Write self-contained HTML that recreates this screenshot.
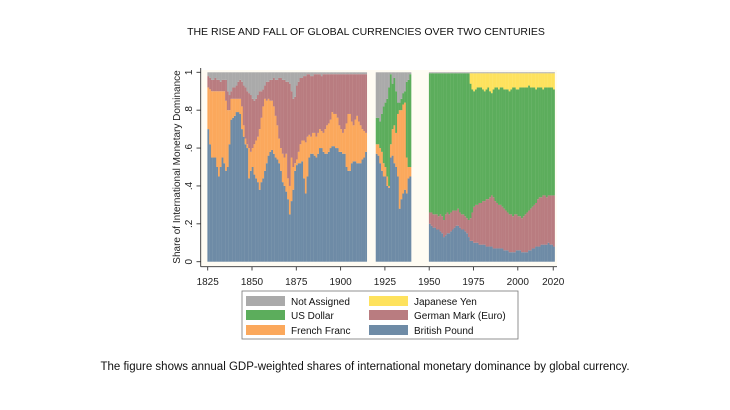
<!DOCTYPE html>
<html><head><meta charset="utf-8"><style>
html,body{margin:0;padding:0;background:#fff;}
svg{display:block;font-family:"Liberation Sans",sans-serif;}
</style></head><body>
<svg id="chart" width="730" height="410" viewBox="0 0 730 410">
<text x="366" y="35" text-anchor="middle" font-size="10.5" fill="#111">THE RISE AND FALL OF GLOBAL CURRENCIES OVER TWO CENTURIES</text>
<rect x="201" y="70" width="356" height="196" fill="#fffcf3"/>
<g id="bars"></g>
<g id="axes"></g>
<text transform="translate(180,167) rotate(-90)" text-anchor="middle" font-size="10" fill="#222">Share of International Monetary Dominance</text>
<g>
<rect x="242" y="291" width="276" height="48" fill="#fff" stroke="#777" stroke-width="0.8"/>
<rect x="246" y="296" width="39" height="10" fill="#aaaaaa"/>
<text x="291" y="305" font-size="10" fill="#111">Not Assigned</text>
<rect x="246" y="310" width="39" height="10" fill="#5cad5c"/>
<text x="291" y="319" font-size="10" fill="#111">US Dollar</text>
<rect x="246" y="325" width="39" height="10" fill="#fba85c"/>
<text x="291" y="334" font-size="10" fill="#111">French Franc</text>
<rect x="369" y="296" width="39" height="10" fill="#fee25d"/>
<text x="414" y="305" font-size="10" fill="#111">Japanese Yen</text>
<rect x="369" y="310" width="39" height="10" fill="#b97c80"/>
<text x="414" y="319" font-size="10" fill="#111">German Mark (Euro)</text>
<rect x="369" y="325" width="39" height="10" fill="#6e8ba6"/>
<text x="414" y="334" font-size="10" fill="#111">British Pound</text>
</g>
<text x="365" y="370" text-anchor="middle" font-size="11.5" fill="#111">The figure shows annual GDP-weighted shares of international monetary dominance by global currency.</text>
</svg>
<script>
// Panel 1: 1825-1914 (cumulative boundaries)
const start1 = 1825;
const pound1 = [.70,.62,.55,.55,.55,.50,.45,.50,.55,.52,.48,.50,.62,.75,.76,.77,.79,.79,.78,.70,.66,.62,.60,.44,.48,.50,.46,.44,.42,.38,.42,.44,.48,.52,.56,.58,.59,.57,.55,.54,.52,.48,.42,.40,.37,.33,.25,.32,.38,.48,.51,.52,.52,.53,.44,.36,.45,.55,.57,.57,.56,.55,.57,.60,.60,.58,.57,.57,.58,.60,.61,.61,.60,.60,.58,.58,.57,.57,.50,.48,.48,.52,.53,.53,.52,.52,.52,.54,.55,.58];
const francTop1 = [.92,.91,.90,.90,.90,.90,.90,.90,.90,.90,.85,.80,.80,.86,.86,.86,.86,.86,.86,.82,.72,.65,.62,.60,.58,.60,.62,.64,.66,.70,.76,.82,.86,.85,.86,.85,.85,.82,.77,.72,.65,.60,.57,.55,.57,.44,.40,.55,.50,.52,.54,.58,.62,.64,.64,.63,.66,.67,.66,.68,.68,.66,.68,.70,.69,.68,.70,.72,.73,.75,.79,.78,.78,.76,.72,.70,.68,.70,.73,.78,.78,.74,.72,.75,.77,.74,.72,.70,.69,.68];
const markTop1 = [.98,.97,.96,.96,.97,.96,.96,.95,.96,.96,.96,.90,.88,.90,.92,.92,.93,.95,.96,.95,.93,.92,.90,.89,.88,.86,.85,.86,.88,.90,.90,.91,.93,.95,.95,.96,.96,.97,.96,.96,.97,.97,.96,.96,.95,.95,.94,.90,.86,.87,.93,.95,.97,.97,.98,.98,.99,.99,.98,.98,.99,.99,.99,.99,.98,.99,.99,.99,.99,.99,.99,.99,.99,.99,.99,.99,.99,.99,.99,.99,.99,.99,.99,.99,.99,.99,.99,.99,.99,.99];
// Panel 2: 1920-1939
const start2 = 1920;
const pound2 = [.57,.56,.52,.48,.45,.45,.40,.39,.55,.56,.52,.50,.45,.28,.33,.36,.38,.36,.44,.45];
const francTop2 = [.62,.62,.60,.58,.52,.50,.45,.40,.62,.70,.72,.68,.78,.80,.80,.83,.84,.55,.50,.50];
const dollarTop2 = [.76,.76,.74,.78,.82,.84,.86,.92,.99,.94,.97,.90,.84,.84,.86,.89,.90,.95,.96,.99];
// Panel 3: 1950-2020
const start3 = 1950;
const pound3 = [.20,.19,.18,.18,.17,.17,.16,.15,.13,.14,.15,.15,.16,.17,.18,.19,.19,.18,.17,.17,.16,.15,.13,.11,.11,.10,.10,.10,.09,.09,.09,.09,.08,.08,.08,.08,.07,.07,.07,.07,.07,.07,.06,.06,.06,.05,.05,.05,.05,.06,.06,.06,.05,.05,.05,.05,.06,.06,.07,.07,.08,.08,.08,.09,.09,.09,.09,.10,.09,.09,.08];
const markTop3 = [.26,.26,.25,.25,.25,.24,.25,.24,.22,.25,.26,.25,.26,.27,.27,.27,.28,.26,.25,.25,.24,.23,.22,.23,.26,.29,.30,.30,.31,.31,.32,.32,.33,.33,.34,.35,.34,.32,.31,.30,.30,.29,.28,.27,.26,.25,.25,.24,.25,.25,.24,.24,.23,.24,.25,.26,.27,.28,.29,.30,.31,.33,.34,.34,.35,.35,.34,.35,.35,.35,.35];
const dollarTop3 = [.995,.995,.995,.995,.995,.995,.995,.995,.995,.995,.995,.995,.995,.995,.995,.995,.995,.995,.995,.995,.995,.995,.995,.94,.91,.90,.91,.92,.92,.92,.91,.90,.91,.92,.90,.89,.91,.92,.92,.91,.92,.92,.91,.91,.91,.90,.91,.92,.92,.91,.91,.92,.92,.92,.92,.92,.93,.92,.92,.92,.91,.92,.92,.92,.91,.92,.92,.92,.92,.92,.91];
const yenTop3 = [.995,.995,.995,.995,.995,.995,.995,.995,.995,.995,.995,.995,.995,.995,.995,.995,.995,.995,.995,.995,.995,.995,.995,.995,.995,.995,.995,.995,.995,.995,.995,.995,.995,.995,.995,.995,.995,.995,.995,.995,.995,.995,.995,.995,.995,.995,.995,.995,.995,.995,.995,.995,.995,.995,.995,.995,.995,.995,.995,.995,.995,.995,.995,.995,.995,.995,.995,.995,.995,.995,.995];
const xTicks = [1825,1850,1875,1900,1925,1950,1975,2000,2020];
const yTicks = [0,.2,.4,.6,.8,1];
const yTickLabels = ["0",".2",".4",".6",".8","1"];

const NS = "http://www.w3.org/2000/svg";
const X0 = 207.7, YW = 1.772, Y0 = 261.7, YH = 189.4;
function xScale(yr){ return X0 + (yr - 1825) * YW; }
function yScale(v){ return Y0 - v * YH; }
const colors = ["#6e8ba6","#fba85c","#b97c80","#5cad5c","#fee25d","#aaaaaa"];
const names = ["pound","franc","mark","dollar","yen","not-assigned"];
const barsG = document.getElementById("bars");

function drawYear(yr, b){
  // b: cumulative boundaries [pound, franc, mark, dollar, yen]
  const bounds = [0].concat(b).concat([1]);
  const x = xScale(yr) - 0.3;
  for (let k = 0; k < 6; k++){
    const lo = bounds[k], hi = Math.max(bounds[k+1], lo);
    if (hi - lo <= 0) continue;
    const r = document.createElementNS(NS, "rect");
    r.setAttribute("x", x.toFixed(2));
    r.setAttribute("y", yScale(hi).toFixed(2));
    r.setAttribute("width", (YW + 0.15).toFixed(2));
    r.setAttribute("height", (yScale(lo) - yScale(hi)).toFixed(2));
    r.setAttribute("fill", colors[k]);
    
    
    barsG.appendChild(r);
  }
}
pound1.forEach((p, i) => { drawYear(start1 + i, [p, francTop1[i], markTop1[i], markTop1[i], markTop1[i]]); });
pound2.forEach((p, i) => { drawYear(start2 + i, [p, francTop2[i], francTop2[i], dollarTop2[i], dollarTop2[i]]); });
pound3.forEach((p, i) => { drawYear(start3 + i, [p, p, markTop3[i], dollarTop3[i], yenTop3[i]]); });

const axesG = document.getElementById("axes");
function line(x1,y1,x2,y2,name){
  const l = document.createElementNS(NS, "line");
  l.setAttribute("x1",x1); l.setAttribute("y1",y1); l.setAttribute("x2",x2); l.setAttribute("y2",y2);
  l.setAttribute("stroke","#333"); l.setAttribute("stroke-width","0.9");
  
  
  axesG.appendChild(l);
}
line(200.7, 68, 200.7, 266.7, "y-axis-line");
line(200.7, 266.7, 557, 266.7, "x-axis-line");
yTicks.forEach((v, i) => {
  const y = yScale(v);
  line(196.5, y, 200.7, y, "y-tick");
  const t = document.createElementNS(NS, "text");
  t.setAttribute("transform", "translate(192," + y.toFixed(2) + ") rotate(-90)");
  t.setAttribute("text-anchor", "middle");
  t.setAttribute("font-size", "10");
  t.setAttribute("fill", "#222");
  t.textContent = yTickLabels[i];
  
  
  axesG.appendChild(t);
});
xTicks.forEach(yr => {
  const x = xScale(yr);
  line(x, 266.7, x, 270.5, "x-tick");
  const t = document.createElementNS(NS, "text");
  t.setAttribute("x", x.toFixed(2));
  t.setAttribute("y", "285");
  t.setAttribute("text-anchor", "middle");
  t.setAttribute("font-size", "10");
  t.setAttribute("fill", "#222");
  t.textContent = yr;
  
  
  axesG.appendChild(t);
});
</script>
</body></html>
